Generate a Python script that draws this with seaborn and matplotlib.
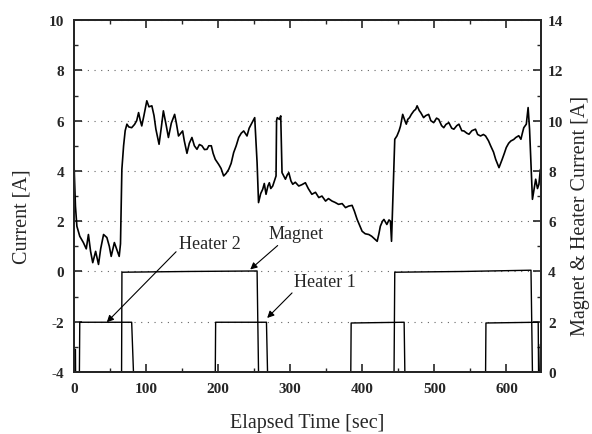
import numpy as np
import pandas as pd
import matplotlib
matplotlib.use("Agg")
import matplotlib.pyplot as plt
from matplotlib.ticker import MultipleLocator
import seaborn as sns

# ---- data ----
time_s = [0, 2, 4, 8, 13, 17, 20, 23, 26, 30, 34, 37, 41, 45.6, 49, 51.6, 56, 59, 62.7, 64.5,
          66.4, 68.8, 71, 73.4, 76, 80, 84, 87, 89.6, 92, 94, 97, 101, 104, 108, 111, 113.6, 118,
          121, 124, 128, 131, 135, 139.6, 142, 145, 150.7, 153, 156.7, 160, 163.6, 167, 170.6,
          174, 177.5, 181, 184.5, 187, 190.5, 193, 196, 200.7, 204, 207.6, 211, 214.6, 218,
          221.5, 225, 228.5, 232, 235.4, 240, 243, 247, 250.7, 254, 256, 259, 261.8, 264,
          266.4, 269, 271, 273, 275.7, 278, 280.3, 281, 282, 285, 286.8, 288.6, 291, 293.3,
          296, 298, 301, 303.5, 307, 311.8, 316, 321, 325, 330, 335, 339.6, 344, 349, 353,
          358, 362, 367, 372, 376.7, 381, 385.8, 389, 392.8, 396, 399.7, 404, 409, 413, 418,
          420.6, 423, 425, 428, 430, 434, 437, 439, 440.5, 442, 445, 448, 451, 453, 456, 459,
          461, 463, 465.5, 468, 471.5, 474, 476, 479, 481, 485, 488, 492, 495, 499, 503, 506,
          510, 513, 516, 520, 524, 527, 531, 534, 538, 541, 545, 548, 552, 557, 560, 564, 568,
          571, 575, 578, 582, 585, 589.6, 594, 597, 599.7, 603, 606, 610, 613, 617, 620, 622,
          624, 627.5, 630, 632, 636, 640.5, 643, 645, 647]
current_a = [4.3, 2.6, 1.8, 1.4, 1.15, 0.9, 1.47, 0.8, 0.35, 0.8, 0.28, 0.9, 1.47, 1.35, 1.0, 0.6,
             1.15, 0.9, 0.6, 1.1, 4.06, 5.0, 5.6, 5.86, 5.75, 5.72, 5.85, 6.0, 6.32, 6.0, 5.79,
             6.2, 6.79, 6.55, 6.59, 6.2, 5.66, 5.06, 5.7, 6.39, 5.8, 5.33, 5.9, 6.25, 5.9, 5.39,
             5.59, 5.2, 4.7, 5.1, 5.33, 5.0, 4.86, 5.05, 5.0, 4.85, 4.86, 5.0, 5.0, 4.7, 4.46,
             4.26, 4.1, 3.8, 3.9, 4.06, 4.3, 4.73, 5.0, 5.33, 5.5, 5.59, 5.39, 5.7, 5.92, 6.12,
             4.33, 2.74, 3.1, 3.27, 3.5, 3.07, 3.4, 3.53, 3.3, 3.4, 3.6, 3.8, 6.0, 6.12, 6.05,
             6.19, 3.93, 3.8, 3.67, 3.85, 3.93, 3.6, 3.47, 3.55, 3.4, 3.45, 3.53, 3.3, 3.07,
             3.15, 2.94, 3.0, 2.8, 2.9, 2.8, 2.75, 2.67, 2.7, 2.54, 2.6, 2.63, 2.4, 2.07, 1.85,
             1.6, 1.5, 1.47, 1.4, 1.27, 1.2, 1.5, 1.8, 2.0, 2.07, 1.87, 2.05, 2.0, 1.2, 2.6,
             5.26, 5.39, 5.6, 5.79, 6.25, 6.0, 5.86, 6.05, 6.12, 6.25, 6.39, 6.45, 6.59, 6.4,
             6.32, 6.12, 6.2, 6.25, 6.0, 5.92, 6.1, 6.05, 5.8, 5.72, 5.85, 5.92, 5.7, 5.66, 5.8,
             5.86, 5.6, 5.59, 5.5, 5.46, 5.6, 5.66, 5.45, 5.39, 5.45, 5.39, 5.2, 5.0, 4.75, 4.46,
             4.13, 4.46, 4.7, 4.93, 5.1, 5.19, 5.25, 5.33, 5.4, 5.26, 5.5, 5.72, 5.86, 6.52,
             5.66, 2.87, 3.67, 3.3, 3.47, 4.06]

magnet_t = [0, 66, 66.5, 160, 254, 256, 444, 445, 540, 634, 636, 648]
magnet_a = [0, 0, 3.97, 4.0, 4.02, 0, 0, 3.97, 4.0, 4.05, 0, 0]

heater_t = [0, 2, 2.2, 7.5, 8, 80, 82.5, 196, 196.5, 267, 268.5, 384, 384.5, 458, 459,
            571, 571.5, 644, 644.5, 646.5, 647, 648]
heater_a = [0.9, 0.9, 0, 0, 1.98, 1.98, 0, 0, 1.98, 1.98, 0, 0, 1.95, 1.98, 0,
            0, 1.95, 1.98, 0, 0, 1.1, 1.1]

x_ticks = [0, 100, 200, 300, 400, 500, 600]
left_ticks = [-4, -2, 0, 2, 4, 6, 8, 10]
right_ticks = [0, 2, 4, 6, 8, 10, 12, 14]

# ---- plot ----
sns.set_style("ticks")
plt.rcParams["font.family"] = ["Liberation Serif", "DejaVu Serif"]
plt.rcParams["axes.unicode_minus"] = False

fig = plt.figure(figsize=(5.92, 4.35), dpi=100)
ax = fig.add_axes([0.125, 0.1425, 0.789, 0.809])
ax2 = ax.twinx()

cur = pd.DataFrame({"t": time_s, "I": current_a})
mag = pd.DataFrame({"t": magnet_t, "I": magnet_a})
hea = pd.DataFrame({"t": heater_t, "I": heater_a})

sns.lineplot(data=cur, x="t", y="I", ax=ax, sort=False, estimator=None,
             color="black", linewidth=1.2)
sns.lineplot(data=mag, x="t", y="I", ax=ax2, sort=False, estimator=None,
             color="black", linewidth=1.0)
sns.lineplot(data=hea, x="t", y="I", ax=ax2, sort=False, estimator=None,
             color="black", linewidth=1.0)

ax.set_xlim(0, 648)
ax.set_ylim(-4, 10)
ax2.set_ylim(0, 14)

ax.set_xticks(x_ticks)
ax.set_yticks(left_ticks)
ax2.set_yticks(right_ticks)
ax.xaxis.set_minor_locator(MultipleLocator(50))
ax.yaxis.set_minor_locator(MultipleLocator(1))
ax2.yaxis.set_minor_locator(MultipleLocator(1))

ax.grid(axis="y", which="major", linestyle=(0, (1, 5)), color="#666666", linewidth=0.8)
ax2.grid(False)

for a in (ax, ax2):
    for s in a.spines.values():
        s.set_linewidth(1.4)
        s.set_visible(True)
ax.tick_params(axis="x", which="major", direction="in", length=6, width=1.2,
               top=True, labelsize=11, pad=7)
ax.tick_params(axis="y", which="major", direction="in", length=6, width=1.2,
               labelsize=11, pad=7)
ax.tick_params(axis="both", which="minor", direction="in", length=3, width=1.0, top=True)
ax.tick_params(axis="y", right=False, which="both")
ax2.tick_params(axis="y", which="major", direction="in", length=6, width=1.2,
                labelsize=11, pad=5)
ax2.tick_params(axis="y", which="minor", direction="in", length=3, width=1.0)
for lab in ax.get_xticklabels() + ax.get_yticklabels() + ax2.get_yticklabels():
    lab.set_fontweight("bold")

ax.set_xlabel("Elapsed Time [sec]", fontsize=14.5, va="baseline")
ax.xaxis.set_label_coords(0.5, -0.157)
ax.set_ylabel("Current [A]", fontsize=14.5)
ax2.set_ylabel("Magnet & Heater Current [A]", fontsize=14.5)
ax.yaxis.set_label_coords(-0.092, 0.445)
ax2.yaxis.set_label_coords(1.065, 0.446)

arrow = dict(arrowstyle="-|>", color="black", lw=0.8, mutation_scale=10,
             shrinkA=0, shrinkB=0)
ax.annotate("Heater 2", xy=(45.5, -2.02), xytext=(189, 1.13), fontsize=13,
            ha="center", va="center", arrowprops=dict(arrow, relpos=(-0.05, 0.0)))
ax.annotate("Magnet", xy=(244.5, 0.08), xytext=(308, 1.5), fontsize=13,
            ha="center", va="center", arrowprops=dict(arrow, relpos=(0.2, -0.1)))
ax.annotate("Heater 1", xy=(268, -1.85), xytext=(348, -0.38), fontsize=13,
            ha="center", va="center", arrowprops=dict(arrow, relpos=(-0.03, -0.2)))

fig.savefig("out.png", dpi=100)
